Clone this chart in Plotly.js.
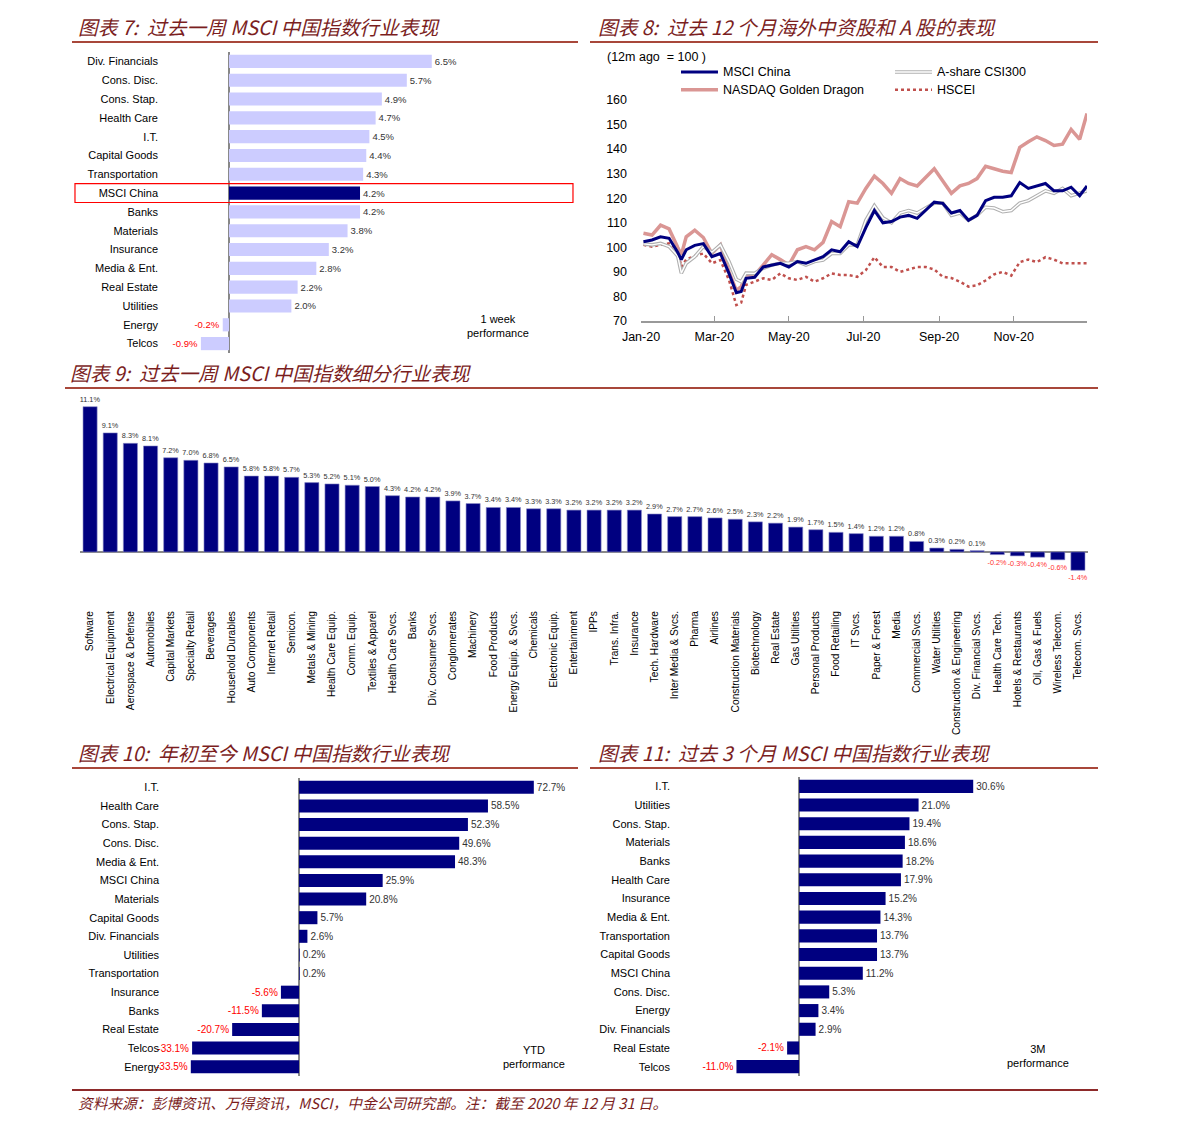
<!DOCTYPE html>
<html>
<head>
<meta charset="utf-8">
<script src="https://cdn.plot.ly/plotly-3.0.1.min.js"></script>
<style>
body{margin:0;background:#fff;width:1191px;height:1129px;position:relative;overflow:hidden;}
.ttl{position:absolute;font-family:"Noto Sans CJK SC",sans-serif;font-style:italic;font-size:19.7px;color:#7b1e1e;white-space:nowrap;line-height:24px;}
.rule{position:absolute;height:1.5px;background:#a8473a;}
.chart{position:absolute;}
</style>
</head>
<body>
<div class="ttl" style="left:78px;top:15px">图表 7:&nbsp;&nbsp;过去一周 MSCI 中国指数行业表现</div>
<div class="rule" style="left:72px;top:41px;width:506px"></div>
<div class="ttl" style="left:598px;top:15px">图表 8:&nbsp;&nbsp;过去 12 个月海外中资股和 A 股的表现</div>
<div class="rule" style="left:590px;top:41px;width:508px"></div>
<div class="ttl" style="left:70px;top:361px">图表 9:&nbsp;&nbsp;过去一周 MSCI 中国指数细分行业表现</div>
<div class="rule" style="left:65px;top:387px;width:1033px"></div>
<div class="ttl" style="left:78px;top:741px">图表 10:&nbsp;&nbsp;年初至今 MSCI 中国指数行业表现</div>
<div class="rule" style="left:72px;top:767px;width:506px"></div>
<div class="ttl" style="left:598px;top:741px">图表 11:&nbsp;&nbsp;过去 3 个月 MSCI 中国指数行业表现</div>
<div class="rule" style="left:590px;top:767px;width:508px"></div>

<div id="c7" class="chart" style="left:0;top:45px"></div>
<div id="c8" class="chart" style="left:590px;top:45px"></div>
<div id="c9" class="chart" style="left:0;top:385px"></div>
<div id="c10" class="chart" style="left:0;top:770px"></div>
<div id="c11" class="chart" style="left:590px;top:770px"></div>

<div class="rule" style="left:72px;top:1089px;width:1026px;background:#8e2a2a"></div>
<div class="ttl" style="left:78px;top:1091px;font-size:14.7px">资料来源：彭博资讯、万得资讯，MSCI，中金公司研究部。注：截至 2020 年 12 月 31 日。</div>

<script>
// 图表7: 过去一周
const weekCats = ['Div. Financials', 'Cons. Disc.', 'Cons. Stap.', 'Health Care', 'I.T.', 'Capital Goods',
    'Transportation', 'MSCI China', 'Banks', 'Materials', 'Insurance', 'Media & Ent.', 'Real Estate',
    'Utilities', 'Energy', 'Telcos'];
const weekVals = [6.5, 5.7, 4.9, 4.7, 4.5, 4.4, 4.3, 4.2, 4.2, 3.8, 3.2, 2.8, 2.2, 2.0, -0.2, -0.9];

// 图表8: 过去12个月 (12m ago = 100)
const lineDates = ['2020-01-03', '2020-01-10', '2020-01-17', '2020-01-24', '2020-01-31', '2020-02-03',
    '2020-02-07', '2020-02-14', '2020-02-21', '2020-02-28', '2020-03-06', '2020-03-13', '2020-03-19',
    '2020-03-23', '2020-03-27', '2020-04-03', '2020-04-10', '2020-04-17', '2020-04-24', '2020-05-01',
    '2020-05-08', '2020-05-15', '2020-05-22', '2020-05-29', '2020-06-05', '2020-06-12', '2020-06-19',
    '2020-06-26', '2020-07-03', '2020-07-10', '2020-07-17', '2020-07-24', '2020-07-31', '2020-08-07',
    '2020-08-14', '2020-08-21', '2020-08-28', '2020-09-04', '2020-09-11', '2020-09-18', '2020-09-25',
    '2020-10-02', '2020-10-09', '2020-10-16', '2020-10-23', '2020-10-30', '2020-11-06', '2020-11-13',
    '2020-11-20', '2020-11-27', '2020-12-04', '2020-12-11', '2020-12-18', '2020-12-25', '2020-12-31'];
const msciChina = [102.3, 103.0, 104.3, 103.7, 98.0, 95.0, 99.0, 100.8, 101.5, 96.2, 97.5, 89.4, 81.5,
    82.0, 87.4, 87.8, 92.0, 92.8, 93.5, 92.0, 94.2, 93.5, 94.8, 96.2, 99.0, 98.2, 102.3, 100.3,
    108.0, 115.0, 110.0, 110.5, 112.3, 113.0, 111.8, 115.0, 118.4, 117.9, 114.0, 115.0, 111.0,
    113.0, 119.0, 120.4, 120.4, 121.0, 126.4, 124.0, 125.0, 126.0, 123.0, 123.0, 124.5, 121.0, 125.0];
const csi300 = [101.4, 101.0, 101.6, 100.3, 96.5, 89.5, 93.5, 96.2, 100.3, 98.0, 101.0, 94.2, 87.0,
    86.0, 89.5, 89.4, 91.5, 92.8, 93.5, 93.5, 94.2, 92.8, 94.2, 94.8, 97.5, 97.5, 101.0, 101.0,
    111.0, 117.0, 112.0, 110.0, 114.0, 115.0, 114.0, 116.0, 118.0, 118.0, 113.0, 114.0, 111.0,
    113.0, 116.3, 116.0, 114.5, 115.0, 118.0, 119.0, 121.0, 123.0, 122.0, 124.0, 121.0, 122.0, 123.0];
const goldenDragon = [105.7, 105.0, 109.0, 107.5, 100.0, 97.0, 104.3, 107.0, 104.0, 97.5, 101.0, 90.0,
    82.5, 84.0, 88.7, 88.7, 92.8, 97.0, 95.0, 92.8, 99.0, 100.3, 99.0, 102.0, 110.5, 108.4, 118.6,
    118.0, 124.0, 129.0, 126.0, 122.0, 128.0, 126.0, 125.0, 128.5, 132.0, 127.0, 122.0, 125.0,
    126.0, 128.0, 133.0, 132.0, 131.0, 130.5, 140.7, 143.0, 145.0, 143.5, 141.5, 142.0, 148.0,
    144.0, 154.5];
const hscei = [101.0, 100.3, 101.0, 101.6, 99.0, 92.0, 95.0, 96.5, 97.5, 93.5, 94.8, 86.7, 76.5, 77.5,
    84.7, 86.0, 87.4, 86.7, 89.4, 87.4, 86.7, 88.0, 86.0, 87.4, 89.4, 88.7, 88.7, 88.0, 90.7, 96.0,
    92.0, 92.0, 90.0, 91.0, 92.0, 92.0, 91.0, 88.0, 87.5, 86.0, 84.0, 84.5, 86.5, 89.0, 90.0, 88.5,
    94.0, 95.0, 94.0, 96.0, 95.0, 93.5, 93.5, 93.5, 93.5];

// 图表9: 细分行业
const subCats = ['Software', 'Electrical Equipment', 'Aerospace & Defense', 'Automobiles', 'Capital Markets',
    'Specialty Retail', 'Beverages', 'Household Durables', 'Auto Components', 'Internet Retail', 'Semicon.',
    'Metals & Mining', 'Health Care Equip.', 'Comm. Equip.', 'Textiles & Apparel', 'Health Care Svcs.',
    'Banks', 'Div. Consumer Svcs.', 'Conglomerates', 'Machinery', 'Food Products', 'Energy Equip. & Svcs.',
    'Chemicals', 'Electronic Equip.', 'Entertainment', 'IPPs', 'Trans. Infra.', 'Insurance',
    'Tech. Hardware', 'Inter Media & Svcs.', 'Pharma', 'Airlines', 'Construction Materials',
    'Biotechnology', 'Real Estate', 'Gas Utilities', 'Personal Products', 'Food Retailing', 'IT Svcs.',
    'Paper & Forest', 'Media', 'Commercial Svcs.', 'Water Utilities', 'Construction & Engineering',
    'Div. Financial Svcs.', 'Health Care Tech.', 'Hotels & Restaurants', 'Oil, Gas & Fuels',
    'Wireless Telecom.', 'Telecom. Svcs.'];
const subVals = [11.1, 9.1, 8.3, 8.1, 7.2, 7.0, 6.8, 6.5, 5.8, 5.8, 5.7, 5.3, 5.2, 5.1, 5.0, 4.3, 4.2, 4.2,
    3.9, 3.7, 3.4, 3.4, 3.3, 3.3, 3.2, 3.2, 3.2, 3.2, 2.9, 2.7, 2.7, 2.6, 2.5, 2.3, 2.2, 1.9, 1.7, 1.5,
    1.4, 1.2, 1.2, 0.8, 0.3, 0.2, 0.1, -0.2, -0.3, -0.4, -0.6, -1.4];

// 图表10: 年初至今
const ytdCats = ['I.T.', 'Health Care', 'Cons. Stap.', 'Cons. Disc.', 'Media & Ent.', 'MSCI China', 'Materials',
    'Capital Goods', 'Div. Financials', 'Utilities', 'Transportation', 'Insurance', 'Banks', 'Real Estate',
    'Telcos', 'Energy'];
const ytdVals = [72.7, 58.5, 52.3, 49.6, 48.3, 25.9, 20.8, 5.7, 2.6, 0.2, 0.2, -5.6, -11.5, -20.7, -33.1, -33.5];

// 图表11: 过去3个月
const m3Cats = ['I.T.', 'Utilities', 'Cons. Stap.', 'Materials', 'Banks', 'Health Care', 'Insurance',
    'Media & Ent.', 'Transportation', 'Capital Goods', 'MSCI China', 'Cons. Disc.', 'Energy',
    'Div. Financials', 'Real Estate', 'Telcos'];
const m3Vals = [30.6, 21.0, 19.4, 18.6, 18.2, 17.9, 15.2, 14.3, 13.7, 13.7, 11.2, 5.3, 3.4, 2.9, -2.1, -11.0];

const NAVY = '#000080';
const FONT = 'Liberation Sans, Arial, sans-serif';
const CONFIG = {displayModeBar: false, staticPlot: true};

function hbar(id, cats, vals, o) {
    const data = [{
        type: 'bar', orientation: 'h', y: cats, x: vals,
        width: 0.7,
        marker: {color: cats.map(c => o.colorFor(c))},
        texttemplate: '%{x:.1f}%', textposition: 'outside', textangle: 0,
        textfont: {size: o.textSize, color: vals.map(v => v < 0 ? '#ff0000' : '#333333')},
        constraintext: 'none', cliponaxis: false
    }];
    const layout = {
        width: o.w, height: o.h, margin: o.margin,
        paper_bgcolor: 'rgba(0,0,0,0)', plot_bgcolor: 'rgba(0,0,0,0)',
        font: {family: FONT, color: '#000', size: 11},
        showlegend: false,
        xaxis: {range: o.xrange, showgrid: false, showticklabels: false, zeroline: true,
            zerolinecolor: '#888', zerolinewidth: 1.5, showline: false},
        yaxis: {type: 'category', categoryorder: 'array', categoryarray: cats, autorange: 'reversed',
            showgrid: false, zeroline: false, ticks: '', tickfont: {size: 11}, ticklabelstandoff: 4},
        annotations: [{
            xref: 'paper', yref: 'paper', x: o.note[0], y: o.note[1], text: o.note[2],
            showarrow: false, xanchor: 'center', yanchor: 'middle', font: {size: 11, color: '#000'}
        }],
        shapes: o.shapes || []
    };
    Plotly.newPlot(id, data, layout, CONFIG);
}

hbar('c7', weekCats, weekVals, {
    w: 590, h: 320, margin: {l: 163, r: 30, t: 7, b: 12},
    xrange: [-2.115, 10.61], textSize: 9.5,
    colorFor: c => c === 'MSCI China' ? NAVY : '#ccccff',
    note: [0.844, 0.09, '1 week<br>performance'],
    shapes: [{type: 'rect', xref: 'paper', yref: 'y', x0: -0.2217, x1: 1.0327, y0: 6.5, y1: 7.5,
        line: {color: '#ff0000', width: 1.2}, fillcolor: 'rgba(0,0,0,0)'}]
});

hbar('c10', ytdCats, ytdVals, {
    w: 590, h: 320, margin: {l: 164, r: 20, t: 7.7, b: 13.7},
    xrange: [-41.8, 83.9], textSize: 10,
    colorFor: () => NAVY,
    note: [0.911, 0.065, 'YTD<br>performance']
});

hbar('c11', m3Cats, m3Vals, {
    w: 520, h: 320, margin: {l: 85, r: 15, t: 6.6, b: 13.6},
    xrange: [-21.8, 52.0], textSize: 10,
    colorFor: () => NAVY,
    note: [0.864, 0.068, '3M<br>performance']
});

// 图表8 折线
const col1 = [0.0897, 0.1726, 0.179];
const col2 = [0.5695, 0.6525, 0.659];
const row1 = 1.127, row2 = 1.046;
function legLine(col, y, line) {
    return {type: 'line', xref: 'paper', yref: 'paper', x0: col[0], x1: col[1], y0: y, y1: y, line: line};
}
function legText(col, y, text) {
    return {xref: 'paper', yref: 'paper', x: col[2], y: y, text: text, showarrow: false,
        xanchor: 'left', yanchor: 'middle', font: {size: 12.5, color: '#000'}};
}
const lineData = [
    {x: lineDates, y: hscei, mode: 'lines', line: {color: '#c0504d', width: 2.5, dash: 'dot'}},
    {x: lineDates, y: goldenDragon, mode: 'lines', line: {color: '#da9694', width: 3.5}},
    {x: lineDates, y: csi300, mode: 'lines', line: {color: '#b0b0b0', width: 3.6}},
    {x: lineDates, y: csi300, mode: 'lines', line: {color: '#ffffff', width: 1.4}},
    {x: lineDates, y: msciChina, mode: 'lines', line: {color: NAVY, width: 3}}
];
Plotly.newPlot('c8', lineData, {
    width: 520, height: 310, margin: {l: 51, r: 23, t: 55, b: 34},
    paper_bgcolor: 'rgba(0,0,0,0)', plot_bgcolor: 'rgba(0,0,0,0)',
    font: {family: FONT, color: '#000', size: 12.5},
    showlegend: false,
    xaxis: {type: 'date', range: ['2020-01-01', '2020-12-31'], tick0: '2020-01-01', dtick: 'M2',
        tickformat: '%b-%y', ticks: 'inside', ticklen: 5, tickcolor: '#999', showline: true,
        linecolor: '#999', linewidth: 1.5, showgrid: false, zeroline: false, ticklabelstandoff: 3},
    yaxis: {range: [70, 160], dtick: 10, showgrid: false, zeroline: false, showline: false, ticks: '',
        ticklabelstandoff: 13},
    shapes: [
        legLine(col1, row1, {color: NAVY, width: 3}),
        legLine(col2, row1, {color: '#b0b0b0', width: 3.6}),
        legLine(col2, row1, {color: '#ffffff', width: 1.4}),
        legLine(col1, row2, {color: '#da9694', width: 3.5}),
        legLine(col2, row2, {color: '#c0504d', width: 2.5, dash: 'dot'})
    ],
    annotations: [
        {xref: 'paper', yref: 'paper', x: -0.08, y: 1.195, text: '(12m ago  = 100 )', showarrow: false,
            xanchor: 'left', yanchor: 'middle', font: {size: 12.5, color: '#000'}},
        legText(col1, row1, 'MSCI China'),
        legText(col2, row1, 'A-share CSI300'),
        legText(col1, row2, 'NASDAQ Golden Dragon'),
        legText(col2, row2, 'HSCEI')
    ]
}, CONFIG);

// 图表9 细分行业
Plotly.newPlot('c9', [{
    type: 'bar', x: subCats, y: subVals,
    marker: {color: NAVY, line: {color: '#8c8cc8', width: 0.6}},
    texttemplate: '%{y:.1f}%', textposition: 'outside', textangle: 0,
    textfont: {size: 7.3, color: subVals.map(v => v < 0 ? '#ff3333' : '#333333')},
    constraintext: 'none', cliponaxis: false
}], {
    width: 1191, height: 355, margin: {l: 80, r: 103, t: 6.4, b: 137},
    paper_bgcolor: 'rgba(0,0,0,0)', plot_bgcolor: 'rgba(0,0,0,0)',
    font: {family: FONT, color: '#000', size: 10},
    bargap: 0.3, showlegend: false,
    xaxis: {type: 'category', tickangle: -90, ticks: '', showline: false, showgrid: false,
        tickfont: {size: 10.2}, ticklabelstandoff: 5},
    yaxis: {range: [-3.9, 12.3], showticklabels: false, showgrid: false, zeroline: true,
        zerolinecolor: '#888', zerolinewidth: 1.5}
}, CONFIG);
</script>
</body>
</html>
